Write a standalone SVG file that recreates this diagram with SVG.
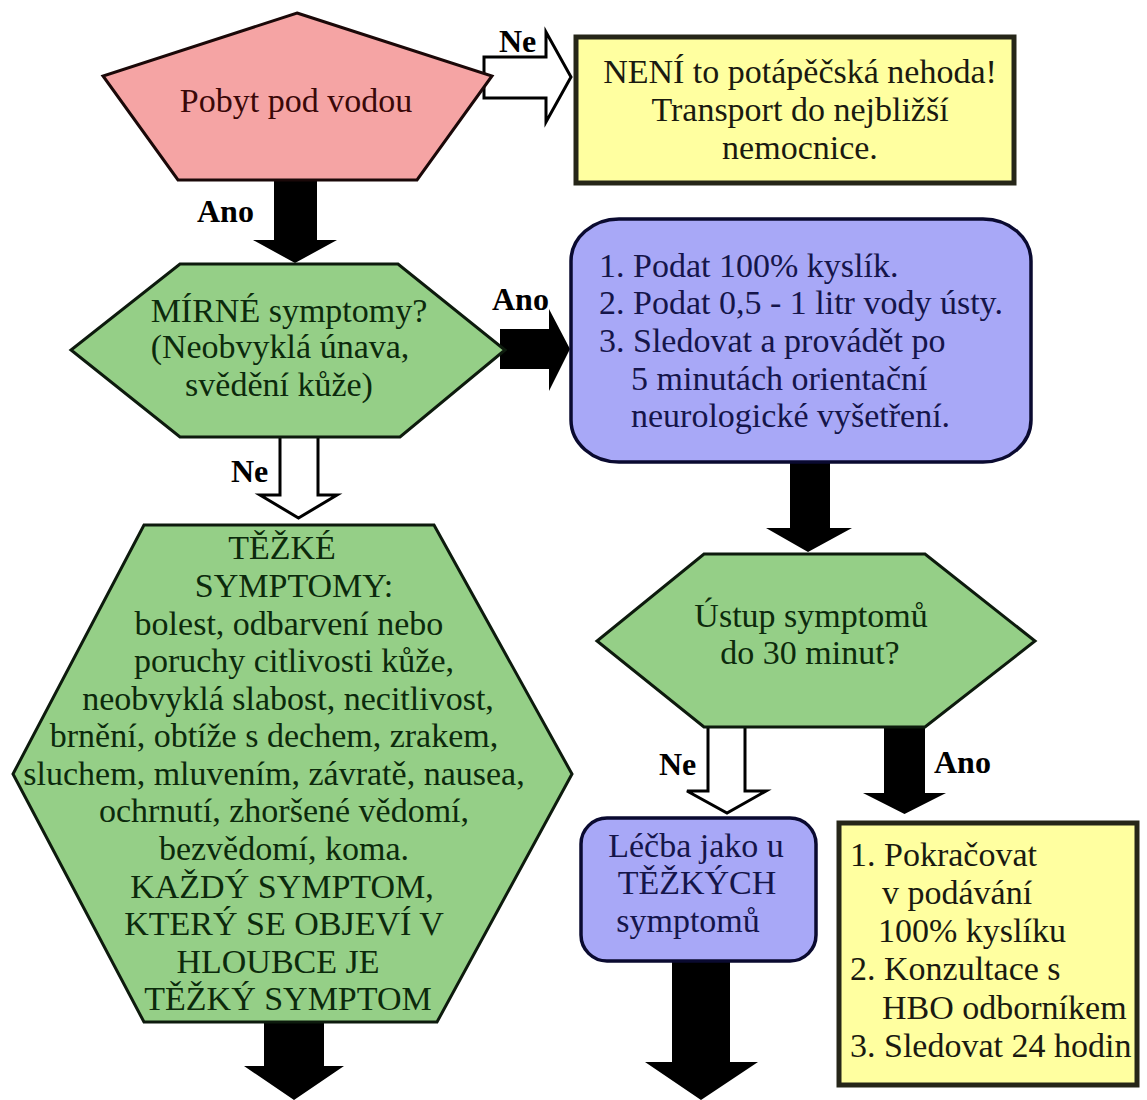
<svg xmlns="http://www.w3.org/2000/svg" width="1147" height="1100" viewBox="0 0 1147 1100">
<style>
text { font-family: "Liberation Serif", "Times New Roman", serif; font-size: 34px; }
.c { text-anchor: middle; }
.lbl { font-weight: bold; font-size: 32px; fill: #000; }
.pink { fill: #f5a4a4; stroke: #1a0808; stroke-width: 3; }
.green { fill: #95cf87; stroke: #0d1a0d; stroke-width: 3; }
.purple { fill: #a8a8f7; stroke: #0a0a30; stroke-width: 3.5; }
.yellow { fill: #ffffa0; stroke: #262618; stroke-width: 5; }
.solid { fill: #000; }
.hollow { fill: #fff; stroke: #000; stroke-width: 3; }
.tp { fill: #3a0808; }
.tg { fill: #0c2a0c; }
.tb { fill: #15154a; }
.ty { fill: #1a1a10; }
</style>
<rect width="1147" height="1100" fill="#fff"/>
<g id="connectors">
  <polygon class="hollow" points="484,57 546,57 546,32 571,77 546,122 546,98 484,98"/>
  <text class="lbl" x="499" y="52">Ne</text>
  <polygon class="solid" points="274,178 317,178 317,240 337,240 295,263 253,240 274,240"/>
  <text class="lbl" x="197" y="222">Ano</text>
  <polygon class="solid" points="500,329 549,329 549,309 570,349 549,391 549,369 500,369"/>
  <text class="lbl" x="492" y="310">Ano</text>
  <polygon class="hollow" points="280,436 318,436 318,495 337,495 298.5,518 260,495 280,495"/>
  <text class="lbl" x="231" y="482">Ne</text>
  <polygon class="solid" points="790,460 830,460 830,528 852,528 808,552 766,528 790,528"/>
  <polygon class="hollow" points="708,726 745,726 745,791 766,791 727,813 687,791 708,791"/>
  <text class="lbl" x="659" y="775">Ne</text>
  <polygon class="solid" points="884,726 925,726 925,793 946,793 904.5,814 863,793 884,793"/>
  <text class="lbl" x="934" y="773">Ano</text>
  <polygon class="solid" points="672,960 730,960 730,1062 758,1062 701,1100 645,1062 672,1062"/>
  <polygon class="solid" points="264,1020 324,1020 324,1066 344,1066 294,1100 244,1066 264,1066"/>
</g>
<g id="pobyt">
  <polygon class="pink" points="297,13 492,76 417,180 178,180 103,76"/>
  <text class="c tp" x="296" y="112">Pobyt pod vodou</text>
</g>
<g id="neni">
  <rect class="yellow" x="576" y="37" width="438" height="146"/>
  <text class="c ty" x="800" y="83">NENÍ to potápěčská nehoda!</text>
  <text class="c ty" x="800" y="121">Transport do nejbližší</text>
  <text class="c ty" x="800" y="159">nemocnice.</text>
</g>
<g id="mirne">
  <polygon class="green" points="180,264 398,264 505,350 400,437 180,437 71,350"/>
  <text class="c tg" x="289" y="322">MÍRNÉ symptomy?</text>
  <text class="c tg" x="280" y="358">(Neobvyklá únava,</text>
  <text class="c tg" x="279" y="396">svědění kůže)</text>
</g>
<g id="kroky">
  <rect class="purple" x="571" y="219" width="460" height="243" rx="48" ry="42"/>
  <text class="tb" x="599" y="277">1. Podat 100% kyslík.</text>
  <text class="tb" x="599" y="314">2. Podat 0,5 - 1 litr vody ústy.</text>
  <text class="tb" x="599" y="352">3. Sledovat a provádět po</text>
  <text class="tb" x="631" y="390">5 minutách orientační</text>
  <text class="tb" x="631" y="427">neurologické vyšetření.</text>
</g>
<g id="tezke">
  <polygon class="green" points="144,525 434,525 572,774 437,1022 144,1022 13,774"/>
  <text class="c tg" x="282" y="559">TĚŽKÉ</text>
  <text class="c tg" x="294" y="597">SYMPTOMY:</text>
  <text class="c tg" x="289" y="635">bolest, odbarvení nebo</text>
  <text class="c tg" x="294" y="672">poruchy citlivosti kůže,</text>
  <text class="c tg" x="288" y="710">neobvyklá slabost, necitlivost,</text>
  <text class="c tg" x="274" y="747">brnění, obtíže s dechem, zrakem,</text>
  <text class="c tg" x="274" y="785">sluchem, mluvením, závratě, nausea,</text>
  <text class="c tg" x="284" y="822">ochrnutí, zhoršené vědomí,</text>
  <text class="c tg" x="284" y="860">bezvědomí, koma.</text>
  <text class="c tg" x="282" y="898">KAŽDÝ SYMPTOM,</text>
  <text class="c tg" x="284" y="935">KTERÝ SE OBJEVÍ V</text>
  <text class="c tg" x="278" y="973">HLOUBCE JE</text>
  <text class="c tg" x="288" y="1010">TĚŽKÝ SYMPTOM</text>
</g>
<g id="ustup">
  <polygon class="green" points="704,554 925,554 1035,641 925,727 704,727 597,641"/>
  <text class="c tg" x="811" y="627">Ústup symptomů</text>
  <text class="c tg" x="810" y="664">do 30 minut?</text>
</g>
<g id="lecba">
  <rect class="purple" x="581" y="818" width="235" height="143" rx="26" ry="26"/>
  <text class="c tb" x="696" y="857">Léčba jako u</text>
  <text class="c tb" x="697" y="894">TĚŽKÝCH</text>
  <text class="c tb" x="688" y="932">symptomů</text>
</g>
<g id="pokracovat">
  <rect class="yellow" x="839" y="823" width="298" height="262"/>
  <text class="ty" x="850" y="866">1. Pokračovat</text>
  <text class="ty" x="882" y="904">v podávání</text>
  <text class="ty" x="878" y="942">100% kyslíku</text>
  <text class="ty" x="850" y="980">2. Konzultace s</text>
  <text class="ty" x="882" y="1019">HBO odborníkem</text>
  <text class="ty" x="850" y="1057">3. Sledovat 24 hodin</text>
</g>
</svg>
